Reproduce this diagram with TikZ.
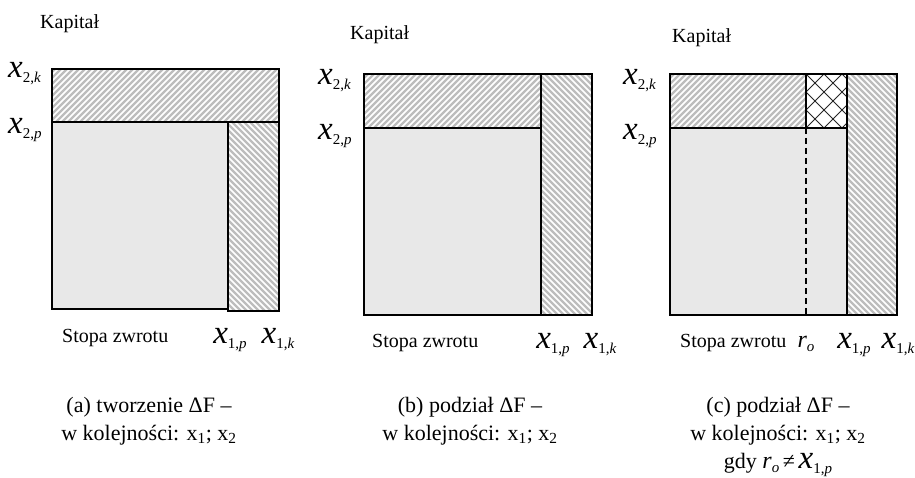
\documentclass[tikz,border=0pt]{standalone}
\usepackage{fontspec}
\setmainfont{Liberation Serif}
\usetikzlibrary{positioning}
% big italic variable with a small subscript
\newcommand{\xsub}[2]{{\fontsize{33}{33}\selectfont\itshape #1}\raisebox{-5pt}{\fontsize{15}{15}\selectfont #2}}
\newcommand{\rsub}[2]{{\fontsize{24}{24}\selectfont\itshape #1}\raisebox{-4pt}{\fontsize{15}{15}\selectfont #2}}
\tikzset{
  box/.style={draw=black, line width=2pt},
  area/.style={fill=black!9},
  stripe/.style={draw=black!26, line width=2.4pt},
  crossline/.style={draw=black!85, line width=1pt},
  lbl/.style={font=\fontsize{20}{24}\selectfont, inner sep=0pt},
  captxt/.style={font=\fontsize{22}{28}\selectfont, align=center, inner sep=0pt},
}
% striped rectangles: x1 y1 x2 y2
\newcommand{\stripesNE}[4]{%
  \begin{scope}
    \clip (#1,#2) rectangle (#3,#4);
    \fill[white] (#1,#2) rectangle (#3,#4);
    \foreach \s in {-260,-254,...,240} \draw[stripe] (#1+\s,#4) -- ++(300,-300);
  \end{scope}}
\newcommand{\stripesNW}[4]{%
  \begin{scope}
    \clip (#1,#2) rectangle (#3,#4);
    \fill[white] (#1,#2) rectangle (#3,#4);
    \foreach \s in {-260,-254,...,240} \draw[stripe] (#1+\s,#2) -- ++(300,300);
  \end{scope}}
\begin{document}
\begin{tikzpicture}[x=1pt, y=-1pt]
\useasboundingbox (0,0) rectangle (915,478);

% (a) tworzenie
\stripesNE{52}{69}{279}{122}
\stripesNW{228}{122}{279}{311}
\fill[area] (52,122) rectangle (228,309);
\draw[box] (52,69) rectangle (279,122);
\draw[box] (228,122) rectangle (279,311);
\draw[box] (52,122) rectangle (228,309);
\node[lbl, anchor=base west] (kapA) at (40,29) {Kapitał};
\node[lbl, anchor=base west] (x2kA) at (8,78) {\xsub{x}{2,\textit{k}}};
\node[lbl, anchor=base west] (x2pA) at (8,134) {\xsub{x}{2,\textit{p}}};
\node[lbl, anchor=base west] (stopaA) at (62,342) {Stopa zwrotu};
\node[lbl, anchor=base] (x1pA) at (230,343) {\xsub{x}{1,\textit{p}}};
\node[lbl, anchor=base] (x1kA) at (278,343) {\xsub{x}{1,\textit{k}}};
\node[captxt, anchor=north] (capA) at (149,397) {(a) tworzenie ΔF --\\w kolejności: x\textsubscript{1}; x\textsubscript{2}};

% (b) podzial
\stripesNE{364}{74}{541}{128}
\stripesNW{541}{74}{592}{315}
\fill[area] (364,128) rectangle (541,315);
\draw[box] (364,74) rectangle (592,315);
\draw[box] (364,128) -- (541,128) -- (541,74);
\draw[box] (541,128) -- (541,315);
\node[lbl, anchor=base west] (kapB) at (350,40) {Kapitał};
\node[lbl, anchor=base west] (x2kB) at (318,85) {\xsub{x}{2,\textit{k}}};
\node[lbl, anchor=base west] (x2pB) at (318,140) {\xsub{x}{2,\textit{p}}};
\node[lbl, anchor=base west] (stopaB) at (372,347) {Stopa zwrotu};
\node[lbl, anchor=base] (x1pB) at (553,348) {\xsub{x}{1,\textit{p}}};
\node[lbl, anchor=base] (x1kB) at (600,348) {\xsub{x}{1,\textit{k}}};
\node[captxt, anchor=north] (capB) at (470,397) {(b) podział ΔF --\\w kolejności: x\textsubscript{1}; x\textsubscript{2}};

% (c) podzial, r_o rozne od x_1p
\stripesNE{670}{74}{806}{128}
\stripesNW{847}{74}{897}{315}
\begin{scope}
  \clip (806,74) rectangle (847,128);
  \fill[white] (806,74) rectangle (847,128);
  \foreach \s in {-72,-54,...,72} {
    \draw[crossline] (806+\s,128) -- ++(80,-80);
    \draw[crossline] (806+\s,74) -- ++(80,80);
  }
\end{scope}
\fill[area] (670,128) rectangle (847,315);
\draw[box] (670,74) rectangle (897,315);
\draw[box] (670,128) -- (847,128);
\draw[box] (806,74) -- (806,128);
\draw[box] (847,74) -- (847,315);
\draw[line width=1.6pt, dash pattern=on 6pt off 4pt] (806,128) -- (806,315);
\node[lbl, anchor=base west] (kapC) at (672,43) {Kapitał};
\node[lbl, anchor=base west] (x2kC) at (623,85) {\xsub{x}{2,\textit{k}}};
\node[lbl, anchor=base west] (x2pC) at (623,140) {\xsub{x}{2,\textit{p}}};
\node[lbl, anchor=base west] (stopaC) at (680,347) {Stopa zwrotu};
\node[lbl, anchor=base] (roC) at (806,347) {\rsub{r}{\textit{o}}};
\node[lbl, anchor=base] (x1pC) at (854,348) {\xsub{x}{1,\textit{p}}};
\node[lbl, anchor=base] (x1kC) at (898,348) {\xsub{x}{1,\textit{k}}};
\node[captxt, anchor=north] (capC) at (778,397) {(c) podział ΔF --\\w kolejności: x\textsubscript{1}; x\textsubscript{2}\\gdy \rsub{r}{\textit{o}}\,≠\,\xsub{x}{1,\textit{p}}};
\end{tikzpicture}
\end{document}
